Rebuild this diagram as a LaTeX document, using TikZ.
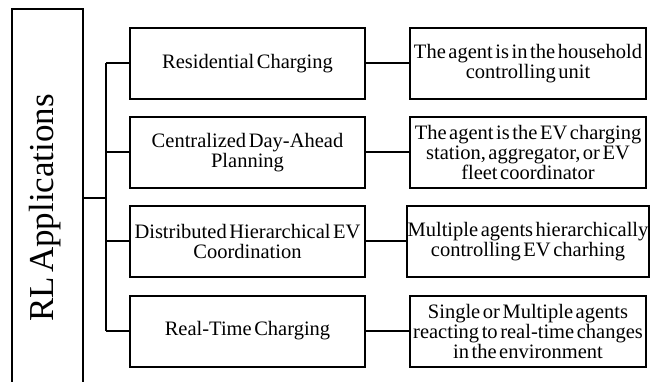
\documentclass[tikz,border=0pt]{standalone}
\usepackage{fontspec}
\setmainfont[WordSpace=0.5]{Liberation Serif}
\begin{document}
\begin{tikzpicture}[x=1pt,y=1pt,
  box/.style={draw, line width=2pt, minimum width=235pt, minimum height=71pt,
    align=center, inner sep=1pt, font=\fontsize{20.5}{20}\selectfont},
  conn/.style={line width=2pt}]
\useasboundingbox (0,0) rectangle (656,-382);
% left title box (open at the bottom)
\node[minimum width=71pt, minimum height=390pt, anchor=north west, inner sep=0pt] (rl) at (12,-9) {};
\draw[conn] (rl.south west) -- (rl.north west) -- (rl.north east) -- (rl.south east);
\node[rotate=90, inner sep=0pt, font=\fontsize{35}{35}\selectfont] (rlt) at (45,-208) {RL Applications};
% middle boxes
\node[box] (m1) at (247.5,-63.5) {Residential Charging};
\node[box] (m2) at (247.5,-152.5) {Centralized Day-Ahead\\Planning};
\node[box] (m3) at (247.5,-241.5) {Distributed Hierarchical EV\\Coordination};
\node[box] (m4) at (247.5,-331) {Real-Time Charging};
% right boxes
\node[box, minimum width=236pt] (r1) at (528,-63.5) {The agent is in the household\\controlling unit};
\node[box, minimum width=236pt] (r2) at (528,-152.5) {The agent is the EV charging\\station, aggregator, or EV\\fleet coordinator};
\node[box, minimum width=236pt] (r3) at (528,-241.5) {Multiple agents hierarchically\\controlling EV charhing};
\node[box, minimum width=236pt] (r4) at (528,-331) {Single or Multiple agents\\reacting to real-time changes\\in the environment};
% tree connectors
\coordinate (t) at (106,-198);
\draw[conn] (rl.north east |- t) -- (t);
\draw[conn] (t |- m1.west) -- (t |- m4.west);
\foreach \i in {1,2,3,4} {
  \draw[conn] (t |- m\i.west) -- (m\i.west);
  \draw[conn] (m\i) -- (r\i);
}
\end{tikzpicture}
\end{document}
